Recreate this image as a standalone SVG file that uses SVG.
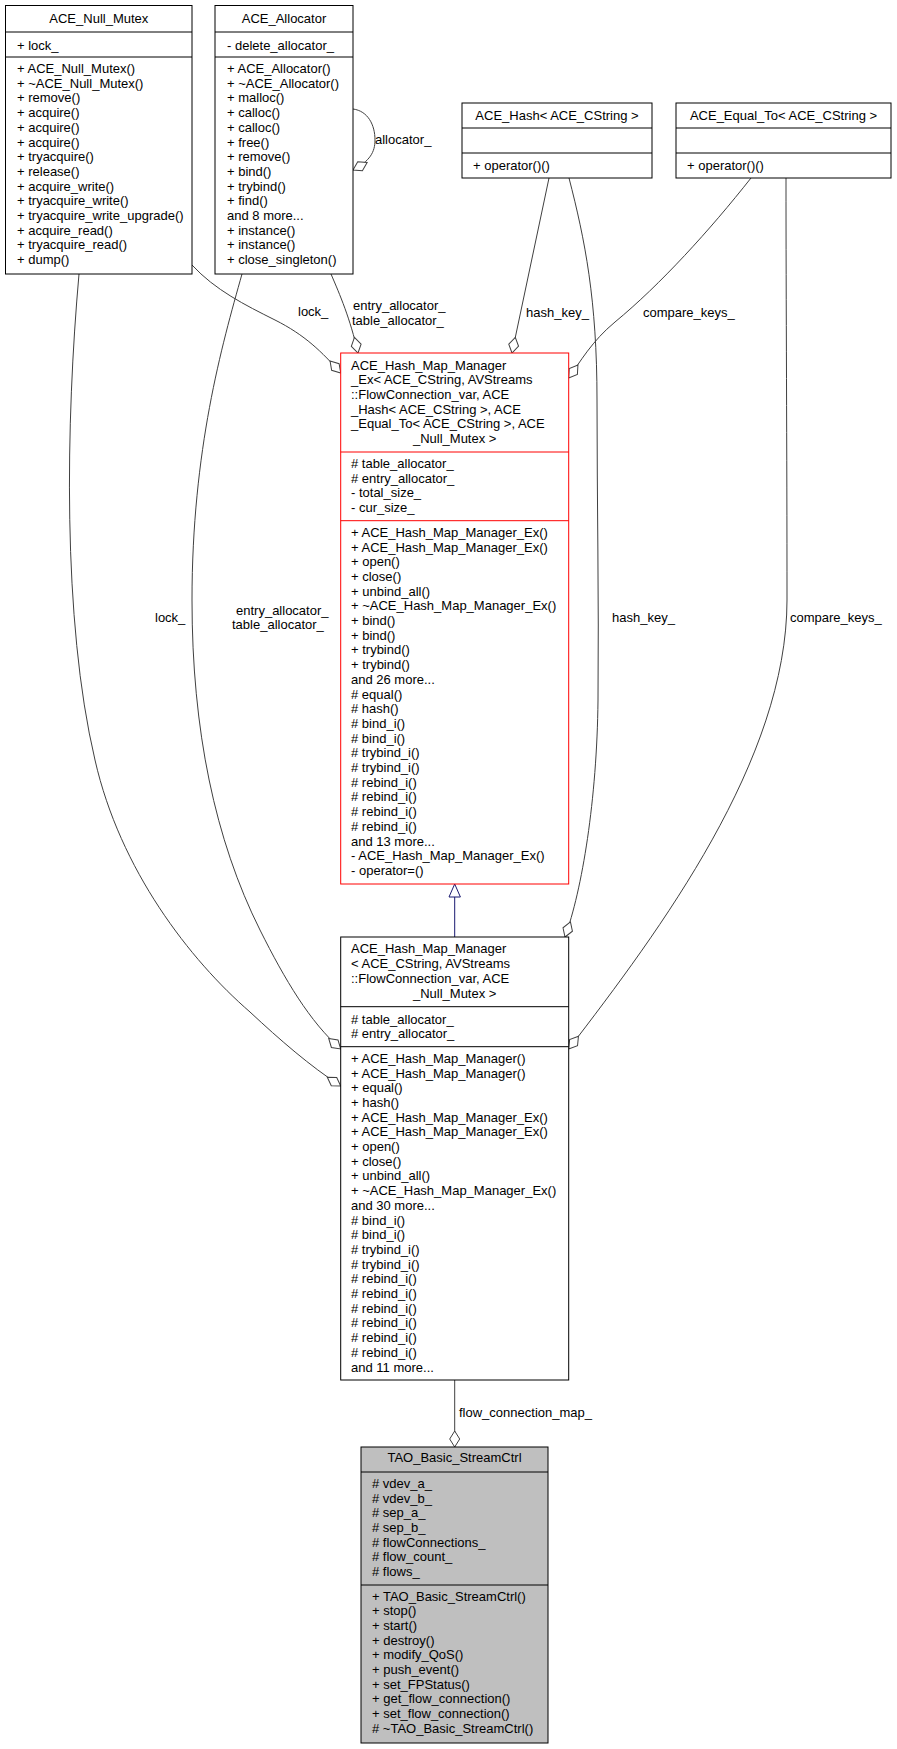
<svg xmlns="http://www.w3.org/2000/svg" width="897" height="1749" viewBox="0 0 897 1749">
<style>
text{font-family:"Liberation Sans",Arial,Helvetica,sans-serif;font-size:13px;fill:#000}
.c{text-anchor:middle}
.box{fill:#fff;stroke:#000;stroke-width:1}
.red{fill:#fff;stroke:#ff0000;stroke-width:1}
.cur{fill:#bfbfbf;stroke:#000;stroke-width:1}
.sep{stroke:#000;stroke-width:1}
.rsep{stroke:#ff0000;stroke-width:1}
.e{fill:none;stroke:#404040;stroke-width:1}
.inh{fill:none;stroke:#191970;stroke-width:1}
</style>
<defs>
<marker id="dia" markerUnits="userSpaceOnUse" markerWidth="20" markerHeight="14" viewBox="0 0 20 14" refX="17" refY="7" orient="auto" overflow="visible">
<path d="M1,7 L9,2 L17,7 L9,12 Z" fill="#fff" stroke="#404040" stroke-width="1"/>
</marker>
</defs>
<rect width="897" height="1749" fill="#fff"/>

<g id="edges">
<path class="e" marker-end="url(#dia)" d="M192,265 C215,290 245,305 275,320 C305,335 322,352 340.7,373"/>
<path class="e" marker-end="url(#dia)" d="M79,274 C66,420 62,620 95,760 C120,870 190,960 250,1012 C280,1040 310,1066 340.7,1086"/>
<path class="e" marker-end="url(#dia)" d="M242,274 C222,345 192,450 192,600 C192,730 215,840 260,930 C285,980 310,1022 340.7,1049"/>
<path class="e" marker-end="url(#dia)" d="M331,274 C340,295 350,318 358,353"/>
<path class="e" marker-end="url(#dia)" d="M353,109 C368,111 375,125 375,140 C375,152 370,161 353,170"/>
<path class="e" marker-end="url(#dia)" d="M549,178 L512,353"/>
<path class="e" marker-end="url(#dia)" d="M569,178 C585,240 597,300 597,400 C597,500 599,600 598,700 C597,800 582,890 565,937"/>
<path class="e" marker-end="url(#dia)" d="M751,178 C710,230 660,285 615,322 C592,341 580,362 568.7,378"/>
<path class="e" marker-end="url(#dia)" d="M786,178 C786,300 787,450 787,600 C787,760 660,930 568.7,1049"/>
<path class="e" marker-end="url(#dia)" d="M454.7,1380 L454.7,1447"/>
<path class="inh" d="M454.7,937 L454.7,897"/>
<polygon points="454.7,884 449,897 460.4,897" fill="#fff" stroke="#191970" stroke-width="1"/>
<text x="375" y="143.5">allocator_</text>
<text x="298" y="316">lock_</text>
<text x="353" y="309.5">entry_allocator_</text>
<text x="352" y="324.5">table_allocator_</text>
<text x="526" y="317">hash_key_</text>
<text x="643" y="317">compare_keys_</text>
<text x="155" y="621.5">lock_</text>
<text x="236" y="615">entry_allocator_</text>
<text x="232" y="629">table_allocator_</text>
<text x="612" y="621.5">hash_key_</text>
<text x="790" y="621.5">compare_keys_</text>
<text x="459" y="1416.5">flow_connection_map_</text>
</g>

<g id="ACE_Null_Mutex">
<rect class="box" x="5.5" y="5.5" width="186.5" height="268.5"/>
<line class="sep" x1="5.5" y1="32" x2="192" y2="32"/>
<line class="sep" x1="5.5" y1="57" x2="192" y2="57"/>
<text class="c" x="98.8" y="23">ACE_Null_Mutex</text>
<text x="17" y="49.5">+ lock_</text>
<text x="17" y="73">+ ACE_Null_Mutex()</text>
<text x="17" y="87.7">+ ~ACE_Null_Mutex()</text>
<text x="17" y="102.4">+ remove()</text>
<text x="17" y="117.1">+ acquire()</text>
<text x="17" y="131.8">+ acquire()</text>
<text x="17" y="146.5">+ acquire()</text>
<text x="17" y="161.2">+ tryacquire()</text>
<text x="17" y="175.9">+ release()</text>
<text x="17" y="190.6">+ acquire_write()</text>
<text x="17" y="205.3">+ tryacquire_write()</text>
<text x="17" y="220">+ tryacquire_write_upgrade()</text>
<text x="17" y="234.7">+ acquire_read()</text>
<text x="17" y="249.4">+ tryacquire_read()</text>
<text x="17" y="264.1">+ dump()</text>
</g>

<g id="ACE_Allocator">
<rect class="box" x="215" y="5.5" width="138" height="268.5"/>
<line class="sep" x1="215" y1="32" x2="353" y2="32"/>
<line class="sep" x1="215" y1="57" x2="353" y2="57"/>
<text class="c" x="284" y="23">ACE_Allocator</text>
<text x="227" y="49.5">- delete_allocator_</text>
<text x="227" y="73">+ ACE_Allocator()</text>
<text x="227" y="87.7">+ ~ACE_Allocator()</text>
<text x="227" y="102.4">+ malloc()</text>
<text x="227" y="117.1">+ calloc()</text>
<text x="227" y="131.8">+ calloc()</text>
<text x="227" y="146.5">+ free()</text>
<text x="227" y="161.2">+ remove()</text>
<text x="227" y="175.9">+ bind()</text>
<text x="227" y="190.6">+ trybind()</text>
<text x="227" y="205.3">+ find()</text>
<text x="227" y="220">and 8 more...</text>
<text x="227" y="234.7">+ instance()</text>
<text x="227" y="249.4">+ instance()</text>
<text x="227" y="264.1">+ close_singleton()</text>
</g>

<g id="ACE_Hash">
<rect class="box" x="462" y="103" width="190" height="75"/>
<line class="sep" x1="462" y1="128" x2="652" y2="128"/>
<line class="sep" x1="462" y1="153" x2="652" y2="153"/>
<text class="c" x="557" y="120">ACE_Hash&lt; ACE_CString &gt;</text>
<text x="473" y="169.5">+ operator()()</text>
</g>

<g id="ACE_Equal_To">
<rect class="box" x="676" y="103" width="215" height="75"/>
<line class="sep" x1="676" y1="128" x2="891" y2="128"/>
<line class="sep" x1="676" y1="153" x2="891" y2="153"/>
<text class="c" x="783.5" y="120">ACE_Equal_To&lt; ACE_CString &gt;</text>
<text x="687" y="169.5">+ operator()()</text>
</g>

<g id="ACE_Hash_Map_Manager_Ex">
<rect class="red" x="340.7" y="353" width="228" height="531"/>
<line class="rsep" x1="340.7" y1="452" x2="568.7" y2="452"/>
<line class="rsep" x1="340.7" y1="520.7" x2="568.7" y2="520.7"/>
<text x="351" y="369.5">ACE_Hash_Map_Manager</text>
<text x="351" y="384.2">_Ex&lt; ACE_CString, AVStreams</text>
<text x="351" y="398.9">::FlowConnection_var, ACE</text>
<text x="351" y="413.6">_Hash&lt; ACE_CString &gt;, ACE</text>
<text x="351" y="428.3">_Equal_To&lt; ACE_CString &gt;, ACE</text>
<text class="c" x="454.7" y="443">_Null_Mutex &gt;</text>
<text x="351" y="467.8"># table_allocator_</text>
<text x="351" y="482.5"># entry_allocator_</text>
<text x="351" y="497.2">- total_size_</text>
<text x="351" y="511.9">- cur_size_</text>
<text x="351" y="536.8">+ ACE_Hash_Map_Manager_Ex()</text>
<text x="351" y="551.5">+ ACE_Hash_Map_Manager_Ex()</text>
<text x="351" y="566.2">+ open()</text>
<text x="351" y="580.9">+ close()</text>
<text x="351" y="595.6">+ unbind_all()</text>
<text x="351" y="610.3">+ ~ACE_Hash_Map_Manager_Ex()</text>
<text x="351" y="625">+ bind()</text>
<text x="351" y="639.7">+ bind()</text>
<text x="351" y="654.4">+ trybind()</text>
<text x="351" y="669.1">+ trybind()</text>
<text x="351" y="683.8">and 26 more...</text>
<text x="351" y="698.5"># equal()</text>
<text x="351" y="713.2"># hash()</text>
<text x="351" y="727.9"># bind_i()</text>
<text x="351" y="742.6"># bind_i()</text>
<text x="351" y="757.3"># trybind_i()</text>
<text x="351" y="772"># trybind_i()</text>
<text x="351" y="786.7"># rebind_i()</text>
<text x="351" y="801.4"># rebind_i()</text>
<text x="351" y="816.1"># rebind_i()</text>
<text x="351" y="830.8"># rebind_i()</text>
<text x="351" y="845.5">and 13 more...</text>
<text x="351" y="860.2">- ACE_Hash_Map_Manager_Ex()</text>
<text x="351" y="874.9">- operator=()</text>
</g>

<g id="ACE_Hash_Map_Manager">
<rect class="box" x="340.7" y="937" width="228" height="443"/>
<line class="sep" x1="340.7" y1="1006.7" x2="568.7" y2="1006.7"/>
<line class="sep" x1="340.7" y1="1046.7" x2="568.7" y2="1046.7"/>
<text x="351" y="952.8">ACE_Hash_Map_Manager</text>
<text x="351" y="967.7">&lt; ACE_CString, AVStreams</text>
<text x="351" y="982.6">::FlowConnection_var, ACE</text>
<text class="c" x="454.7" y="997.5">_Null_Mutex &gt;</text>
<text x="351" y="1023.5"># table_allocator_</text>
<text x="351" y="1038.2"># entry_allocator_</text>
<text x="351" y="1062.8">+ ACE_Hash_Map_Manager()</text>
<text x="351" y="1077.5">+ ACE_Hash_Map_Manager()</text>
<text x="351" y="1092.2">+ equal()</text>
<text x="351" y="1106.9">+ hash()</text>
<text x="351" y="1121.6">+ ACE_Hash_Map_Manager_Ex()</text>
<text x="351" y="1136.3">+ ACE_Hash_Map_Manager_Ex()</text>
<text x="351" y="1151">+ open()</text>
<text x="351" y="1165.7">+ close()</text>
<text x="351" y="1180.4">+ unbind_all()</text>
<text x="351" y="1195.1">+ ~ACE_Hash_Map_Manager_Ex()</text>
<text x="351" y="1209.8">and 30 more...</text>
<text x="351" y="1224.5"># bind_i()</text>
<text x="351" y="1239.2"># bind_i()</text>
<text x="351" y="1253.9"># trybind_i()</text>
<text x="351" y="1268.6"># trybind_i()</text>
<text x="351" y="1283.3"># rebind_i()</text>
<text x="351" y="1298"># rebind_i()</text>
<text x="351" y="1312.7"># rebind_i()</text>
<text x="351" y="1327.4"># rebind_i()</text>
<text x="351" y="1342.1"># rebind_i()</text>
<text x="351" y="1356.8"># rebind_i()</text>
<text x="351" y="1371.5">and 11 more...</text>
</g>

<g id="TAO_Basic_StreamCtrl">
<rect class="cur" x="361" y="1447" width="187" height="296"/>
<line class="sep" x1="361" y1="1472" x2="548" y2="1472"/>
<line class="sep" x1="361" y1="1585" x2="548" y2="1585"/>
<text class="c" x="454.5" y="1462">TAO_Basic_StreamCtrl</text>
<text x="372" y="1487.8"># vdev_a_</text>
<text x="372" y="1502.5"># vdev_b_</text>
<text x="372" y="1517.2"># sep_a_</text>
<text x="372" y="1531.9"># sep_b_</text>
<text x="372" y="1546.6"># flowConnections_</text>
<text x="372" y="1561.3"># flow_count_</text>
<text x="372" y="1576"># flows_</text>
<text x="372" y="1600.5">+ TAO_Basic_StreamCtrl()</text>
<text x="372" y="1615.2">+ stop()</text>
<text x="372" y="1629.9">+ start()</text>
<text x="372" y="1644.6">+ destroy()</text>
<text x="372" y="1659.3">+ modify_QoS()</text>
<text x="372" y="1674">+ push_event()</text>
<text x="372" y="1688.7">+ set_FPStatus()</text>
<text x="372" y="1703.4">+ get_flow_connection()</text>
<text x="372" y="1718.1">+ set_flow_connection()</text>
<text x="372" y="1732.8"># ~TAO_Basic_StreamCtrl()</text>
</g>
</svg>
